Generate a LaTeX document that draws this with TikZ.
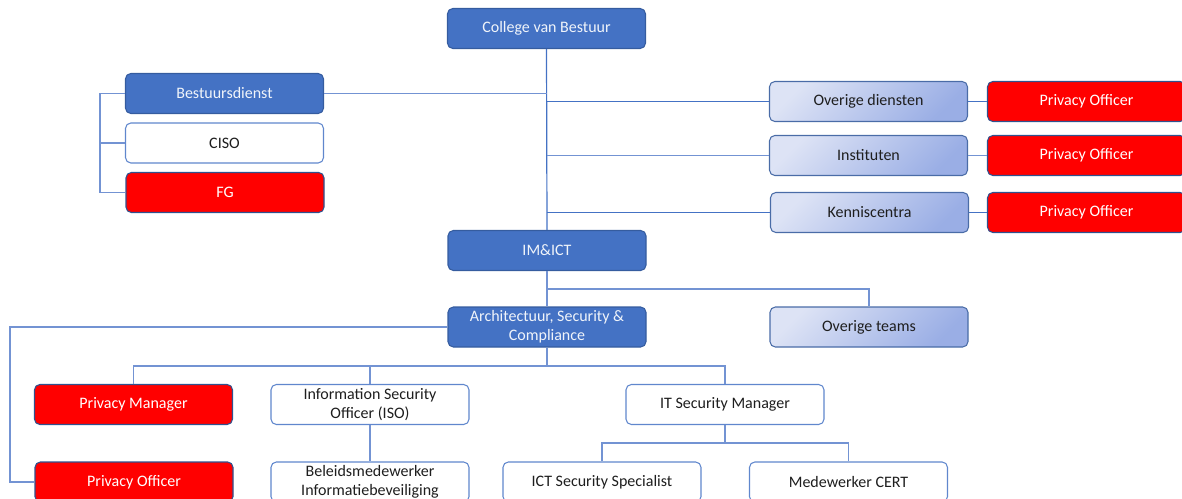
\documentclass[tikz,border=0pt]{standalone}
\usepackage{fontspec}
\setmainfont{Carlito}
\definecolor{navy}{HTML}{4472C4}
\definecolor{navyline}{HTML}{2F528F}
\definecolor{wire}{HTML}{7393D3}
\definecolor{paleA}{HTML}{DDE3F5}
\definecolor{paleB}{HTML}{9AAEE5}
\definecolor{inktext}{HTML}{1E1E1E}
\tikzset{
  unit/.style={rectangle, rounded corners=4pt, minimum width=148.5pt, minimum height=30pt,
    inner sep=0pt, align=center, font=\fontsize{12}{14.5}\selectfont, line width=0.8pt},
  darkbox/.style={unit, fill=navy, draw=navyline!70!navy, text=white!92!navy},
  whitebox/.style={unit, fill=white, draw=navy!85, text=inktext},
  redbox/.style={unit, fill=red, draw=navyline, text=white},
  palebox/.style={unit, draw=navy!80!black!90, top color=paleA, bottom color=paleB, shading angle=45, text=inktext},
  link/.style={draw=wire, line width=0.9pt},
}
\begin{document}
\begin{tikzpicture}[x=0.75pt, y=-0.75pt]
\useasboundingbox (0,0) rectangle (1182,499);
\clip (0,0) rectangle (1182,499);

% top level
\node[darkbox] (cvb) at (546.5,28.5) {College van Bestuur};
\node[darkbox] (bd) at (224.5,93.5) {Bestuursdienst};
\node[whitebox] (ciso) at (224.5,143) {CISO};
\node[redbox] (fg) at (225,192.5) {FG};

% faculties and services on the right
\node[palebox] (od) at (868.5,101.5) {Overige diensten};
\node[redbox] (po1) at (1086.5,101.5) {Privacy Officer};
\node[palebox] (inst) at (868.5,155.5) {Instituten};
\node[redbox] (po2) at (1086.5,155.5) {Privacy Officer};
\node[palebox] (kc) at (869.5,212.5) {Kenniscentra};
\node[redbox] (po3) at (1086.5,212.5) {Privacy Officer};

% IM&ICT branch
\node[darkbox] (imict) at (547,250.5) {IM\&ICT};
\node[darkbox] (asc) at (547,327) {Architectuur, Security \&\\Compliance};
\node[palebox] (ot) at (869,327) {Overige teams};

\node[redbox] (pm) at (133.5,404.5) {Privacy Manager};
\node[whitebox] (iso) at (370,404.5) {Information Security\\Officer (ISO)};
\node[whitebox] (itsm) at (725,404.5) {IT Security Manager};

\node[redbox] (po4) at (134,482) {Privacy Officer};
\node[whitebox] (bel) at (370,482) {Beleidsmedewerker\\Informatiebeveiliging};
\node[whitebox] (icts) at (602,482) {ICT Security Specialist};
\node[whitebox] (cert) at (848.5,482) {Medewerker CERT};

% helper points for the elbow connectors
\coordinate (lbr) at (100,0);
\coordinate (lfar) at (10,0);
\coordinate (bus) at (0,366);
\coordinate (tbus) at (0,289);
\coordinate (sbus) at (0,443);

% trunk
\draw[link, draw=navy] (cvb.south) -- (imict.north);
\draw[link] (bd.east) -- (bd.east -| cvb.south);
\draw[link, draw=navy] (cvb.south |- od.west) -- (od.west);
\draw[link] (cvb.south |- inst.west) -- (inst.west);
\draw[link, draw=navy] (cvb.south |- kc.west) -- (kc.west);
\draw[link, draw=navy] (od.east) -- (po1.west);
\draw[link] (inst.east) -- (po2.west);
\draw[link, draw=navy] (kc.east) -- (po3.west);

% staff of Bestuursdienst
\draw[link] (bd.west) -| (lbr |- fg.west) -- (fg.west);
\draw[link] (ciso.west) -- (lbr |- ciso.west);

% IM&ICT
\draw[link] (imict.south) -- (asc.north);
\draw[link] (imict.south |- tbus) -| (ot.north);

% Architectuur, Security & Compliance
\draw[link] (asc.west) -| (lfar |- po4.west) -- (po4.west);
\draw[link] (asc.south) -- (asc.south |- bus);
\draw[link] (pm.north) |- (asc.south |- bus) -| (itsm.north);
\draw[link] (iso.north) -- (iso.north |- bus);
\draw[link] (iso.south) -- (bel.north);

% IT Security Manager
\draw[link] (itsm.south) -- (itsm.south |- sbus);
\draw[link] (icts.north) |- (itsm.south |- sbus) -| (cert.north);
\end{tikzpicture}
\end{document}
